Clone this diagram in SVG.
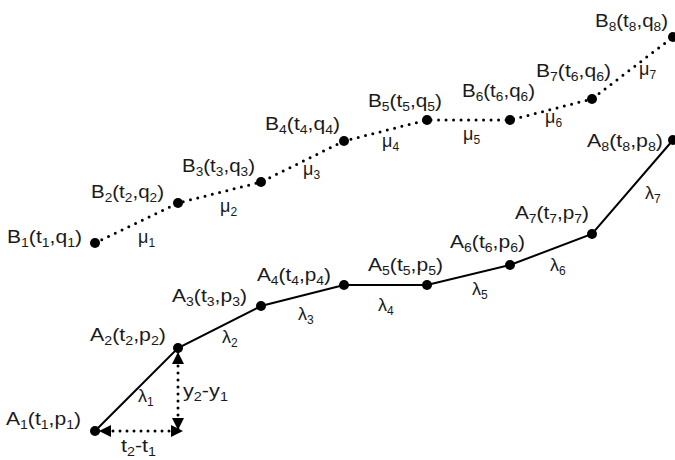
<svg xmlns="http://www.w3.org/2000/svg" width="675" height="460" viewBox="0 0 675 460">
<style>
text{font-family:"Liberation Sans",Arial,sans-serif;font-size:18px;fill:#1a1a1a}
.s{font-size:12px}
.dot{fill:#000}
.solid{fill:none;stroke:#000;stroke-width:2}
.dotted{fill:none;stroke:#000;stroke-width:3;stroke-linecap:round;stroke-dasharray:0 7.5}
.arr{fill:none;stroke:#000;stroke-width:3;stroke-linecap:round;stroke-dasharray:0 7;marker-start:url(#ah);marker-end:url(#ah)}
</style>
<defs>
<marker id="ah" viewBox="0 0 10 10" refX="10" refY="5" markerWidth="12" markerHeight="12" markerUnits="userSpaceOnUse" orient="auto-start-reverse">
<path d="M0,0 L10,5 L0,10 z" fill="#000"/>
</marker>
</defs>
<rect width="675" height="460" fill="#fff"/>
<g id="connectors">
<polyline class="solid" points="95,431 178,348 261,306 344,285 427,285 510,265 592,234 673,140"/>
<polyline class="dotted" points="95,243 178,203 261,182 344,141 427,120 510,120 592,99 673,37"/>
<line class="arr" x1="178" y1="352" x2="178" y2="430"/>
<line class="arr" x1="99" y1="431" x2="183" y2="431"/>
</g>
<g id="edge-labels">
<text x="138" y="402">λ<tspan class="s" dy="4">1</tspan></text>
<text x="222" y="343">λ<tspan class="s" dy="4">2</tspan></text>
<text x="298" y="320">λ<tspan class="s" dy="4">3</tspan></text>
<text x="378" y="311">λ<tspan class="s" dy="4">4</tspan></text>
<text x="472" y="295">λ<tspan class="s" dy="4">5</tspan></text>
<text x="550" y="271">λ<tspan class="s" dy="4">6</tspan></text>
<text x="645" y="199">λ<tspan class="s" dy="4">7</tspan></text>
<text x="138" y="243">μ<tspan class="s" dy="4">1</tspan></text>
<text x="220" y="212">μ<tspan class="s" dy="4">2</tspan></text>
<text x="303" y="175">μ<tspan class="s" dy="4">3</tspan></text>
<text x="382" y="147">μ<tspan class="s" dy="4">4</tspan></text>
<text x="463" y="140">μ<tspan class="s" dy="4">5</tspan></text>
<text x="545" y="123">μ<tspan class="s" dy="4">6</tspan></text>
<text x="639" y="75">μ<tspan class="s" dy="4">7</tspan></text>
<text x="183" y="397" textLength="45" lengthAdjust="spacingAndGlyphs">y<tspan class="s" dy="4">2</tspan><tspan dy="-4">-y</tspan><tspan class="s" dy="4">1</tspan></text>
<text x="121" y="452" textLength="35" lengthAdjust="spacingAndGlyphs">t<tspan class="s" dy="4">2</tspan><tspan dy="-4">-t</tspan><tspan class="s" dy="4">1</tspan></text>
</g>
<g id="A1"><circle class="dot" cx="95" cy="431" r="5"/><text x="6" y="425" textLength="75" lengthAdjust="spacingAndGlyphs">A<tspan class="s" dy="4">1</tspan><tspan dy="-4">(t</tspan><tspan class="s" dy="4">1</tspan><tspan dy="-4">,p</tspan><tspan class="s" dy="4">1</tspan><tspan dy="-4">)</tspan></text></g>
<g id="A2"><circle class="dot" cx="178" cy="348" r="5"/><text x="90" y="341" textLength="76" lengthAdjust="spacingAndGlyphs">A<tspan class="s" dy="4">2</tspan><tspan dy="-4">(t</tspan><tspan class="s" dy="4">2</tspan><tspan dy="-4">,p</tspan><tspan class="s" dy="4">2</tspan><tspan dy="-4">)</tspan></text></g>
<g id="A3"><circle class="dot" cx="261" cy="306" r="5"/><text x="172" y="302" textLength="75" lengthAdjust="spacingAndGlyphs">A<tspan class="s" dy="4">3</tspan><tspan dy="-4">(t</tspan><tspan class="s" dy="4">3</tspan><tspan dy="-4">,p</tspan><tspan class="s" dy="4">3</tspan><tspan dy="-4">)</tspan></text></g>
<g id="A4"><circle class="dot" cx="344" cy="285" r="5"/><text x="257" y="281" textLength="74" lengthAdjust="spacingAndGlyphs">A<tspan class="s" dy="4">4</tspan><tspan dy="-4">(t</tspan><tspan class="s" dy="4">4</tspan><tspan dy="-4">,p</tspan><tspan class="s" dy="4">4</tspan><tspan dy="-4">)</tspan></text></g>
<g id="A5"><circle class="dot" cx="427" cy="285" r="5"/><text x="368" y="271" textLength="75" lengthAdjust="spacingAndGlyphs">A<tspan class="s" dy="4">5</tspan><tspan dy="-4">(t</tspan><tspan class="s" dy="4">5</tspan><tspan dy="-4">,p</tspan><tspan class="s" dy="4">5</tspan><tspan dy="-4">)</tspan></text></g>
<g id="A6"><circle class="dot" cx="510" cy="265" r="5"/><text x="450" y="248" textLength="75" lengthAdjust="spacingAndGlyphs">A<tspan class="s" dy="4">6</tspan><tspan dy="-4">(t</tspan><tspan class="s" dy="4">6</tspan><tspan dy="-4">,p</tspan><tspan class="s" dy="4">6</tspan><tspan dy="-4">)</tspan></text></g>
<g id="A7"><circle class="dot" cx="592" cy="234" r="5"/><text x="515" y="219" textLength="74" lengthAdjust="spacingAndGlyphs">A<tspan class="s" dy="4">7</tspan><tspan dy="-4">(t</tspan><tspan class="s" dy="4">7</tspan><tspan dy="-4">,p</tspan><tspan class="s" dy="4">7</tspan><tspan dy="-4">)</tspan></text></g>
<g id="A8"><circle class="dot" cx="673" cy="140" r="5"/><text x="587" y="147" textLength="76" lengthAdjust="spacingAndGlyphs">A<tspan class="s" dy="4">8</tspan><tspan dy="-4">(t</tspan><tspan class="s" dy="4">8</tspan><tspan dy="-4">,p</tspan><tspan class="s" dy="4">8</tspan><tspan dy="-4">)</tspan></text></g>
<g id="B1"><circle class="dot" cx="95" cy="243" r="5"/><text x="7" y="243" textLength="75" lengthAdjust="spacingAndGlyphs">B<tspan class="s" dy="4">1</tspan><tspan dy="-4">(t</tspan><tspan class="s" dy="4">1</tspan><tspan dy="-4">,q</tspan><tspan class="s" dy="4">1</tspan><tspan dy="-4">)</tspan></text></g>
<g id="B2"><circle class="dot" cx="178" cy="203" r="5"/><text x="91" y="198" textLength="73" lengthAdjust="spacingAndGlyphs">B<tspan class="s" dy="4">2</tspan><tspan dy="-4">(t</tspan><tspan class="s" dy="4">2</tspan><tspan dy="-4">,q</tspan><tspan class="s" dy="4">2</tspan><tspan dy="-4">)</tspan></text></g>
<g id="B3"><circle class="dot" cx="261" cy="182" r="5"/><text x="182" y="172" textLength="73" lengthAdjust="spacingAndGlyphs">B<tspan class="s" dy="4">3</tspan><tspan dy="-4">(t</tspan><tspan class="s" dy="4">3</tspan><tspan dy="-4">,q</tspan><tspan class="s" dy="4">3</tspan><tspan dy="-4">)</tspan></text></g>
<g id="B4"><circle class="dot" cx="344" cy="141" r="5"/><text x="265" y="130" textLength="75" lengthAdjust="spacingAndGlyphs">B<tspan class="s" dy="4">4</tspan><tspan dy="-4">(t</tspan><tspan class="s" dy="4">4</tspan><tspan dy="-4">,q</tspan><tspan class="s" dy="4">4</tspan><tspan dy="-4">)</tspan></text></g>
<g id="B5"><circle class="dot" cx="427" cy="120" r="5"/><text x="368" y="107" textLength="74" lengthAdjust="spacingAndGlyphs">B<tspan class="s" dy="4">5</tspan><tspan dy="-4">(t</tspan><tspan class="s" dy="4">5</tspan><tspan dy="-4">,q</tspan><tspan class="s" dy="4">5</tspan><tspan dy="-4">)</tspan></text></g>
<g id="B6"><circle class="dot" cx="510" cy="120" r="5"/><text x="462" y="97" textLength="73" lengthAdjust="spacingAndGlyphs">B<tspan class="s" dy="4">6</tspan><tspan dy="-4">(t</tspan><tspan class="s" dy="4">6</tspan><tspan dy="-4">,q</tspan><tspan class="s" dy="4">6</tspan><tspan dy="-4">)</tspan></text></g>
<g id="B7"><circle class="dot" cx="592" cy="99" r="5"/><text x="536" y="77" textLength="75" lengthAdjust="spacingAndGlyphs">B<tspan class="s" dy="4">7</tspan><tspan dy="-4">(t</tspan><tspan class="s" dy="4">6</tspan><tspan dy="-4">,q</tspan><tspan class="s" dy="4">6</tspan><tspan dy="-4">)</tspan></text></g>
<g id="B8"><circle class="dot" cx="673" cy="37" r="5"/><text x="595" y="27" textLength="73" lengthAdjust="spacingAndGlyphs">B<tspan class="s" dy="4">8</tspan><tspan dy="-4">(t</tspan><tspan class="s" dy="4">8</tspan><tspan dy="-4">,q</tspan><tspan class="s" dy="4">8</tspan><tspan dy="-4">)</tspan></text></g>
</svg>
